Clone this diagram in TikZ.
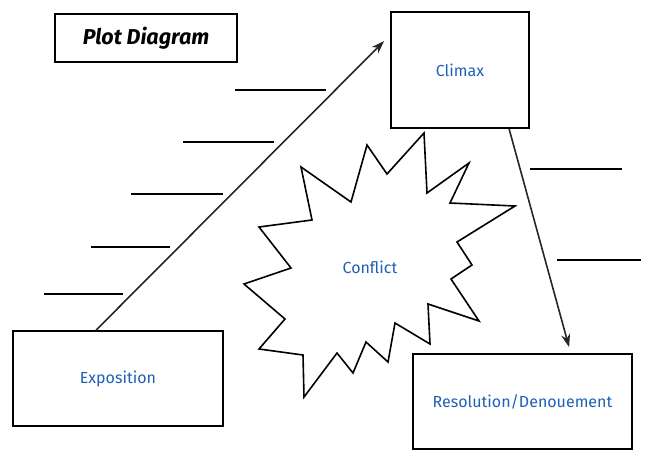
\documentclass[tikz,border=0pt]{standalone}
\usepackage{fontspec}
\setmainfont{Fira Sans}
\usetikzlibrary{arrows.meta,calc}
\definecolor{lblue}{HTML}{1F5FB5}
\tikzset{
  box/.style={draw=black, line width=1.8pt, rectangle, inner sep=0pt, font=\fontsize{16}{18}\selectfont, text=lblue},
  blank/.style={draw=black, line width=1.5pt},
  arr/.style={draw=black!85, line width=1.6pt, -{Stealth[length=13pt,width=9pt]}},
  burst/.style={draw=black, line width=1.6pt, line join=miter}
}
\begin{document}
\begin{tikzpicture}[x=1pt,y=-1pt]
\useasboundingbox (0,0) rectangle (645,466);
% title
\node[box, minimum width=182pt, minimum height=48pt, text=black, font=\fontsize{21.5}{24}\selectfont\bfseries\itshape] (title) at (146,38) {Plot Diagram};
% boxes
\node[box, minimum width=138pt, minimum height=116pt] (clim) at (460,70) {Climax};
\node[box, minimum width=210pt, minimum height=95pt] (expo) at (118,378.5) {Exposition};
\node[box, minimum width=219pt, minimum height=95pt] (reso) at (522.5,401.5) {Resolution/Denouement};
% starburst
\draw[burst] (424,133) -- (387,174) -- (367,145) -- (351,202) -- (301,167) -- (312,220)
  -- (259,227) -- (291,268) -- (244,284) -- (285,319) -- (259,349) -- (303,355)
  -- (304,397) -- (337,353) -- (353,373) -- (366,342) -- (388,362) -- (395,323)
  -- (430,344) -- (428,304) -- (479,321) -- (451,279) -- (472,265) -- (457,242)
  -- (515,206) -- (450,203) -- (469,163) -- (427,193) -- cycle;
\node[font=\fontsize{16}{18}\selectfont, text=lblue] (conf) at (370,267) {Conflict};
% arrows
\coordinate (a1) at ($(expo.north west)+(84,0)$);
\coordinate (a2) at ($(clim.north west)+(-6,30)$);
\draw[arr] (a1) -- (a2);
\coordinate (b1) at ($(clim.south west)+(119,0)$);
\coordinate (b2) at ($(reso.north west)+(157,-6)$);
\draw[arr] (b1) -- (b2);
% blank lines
\draw[blank] (235,90) -- (326,90);
\draw[blank] (183,142) -- (274,142);
\draw[blank] (131,194) -- (223,194);
\draw[blank] (91,247) -- (170,247);
\draw[blank] (44,294) -- (123,294);
\draw[blank] (530,169) -- (622,169);
\draw[blank] (557,260) -- (641,260);
\end{tikzpicture}
\end{document}
